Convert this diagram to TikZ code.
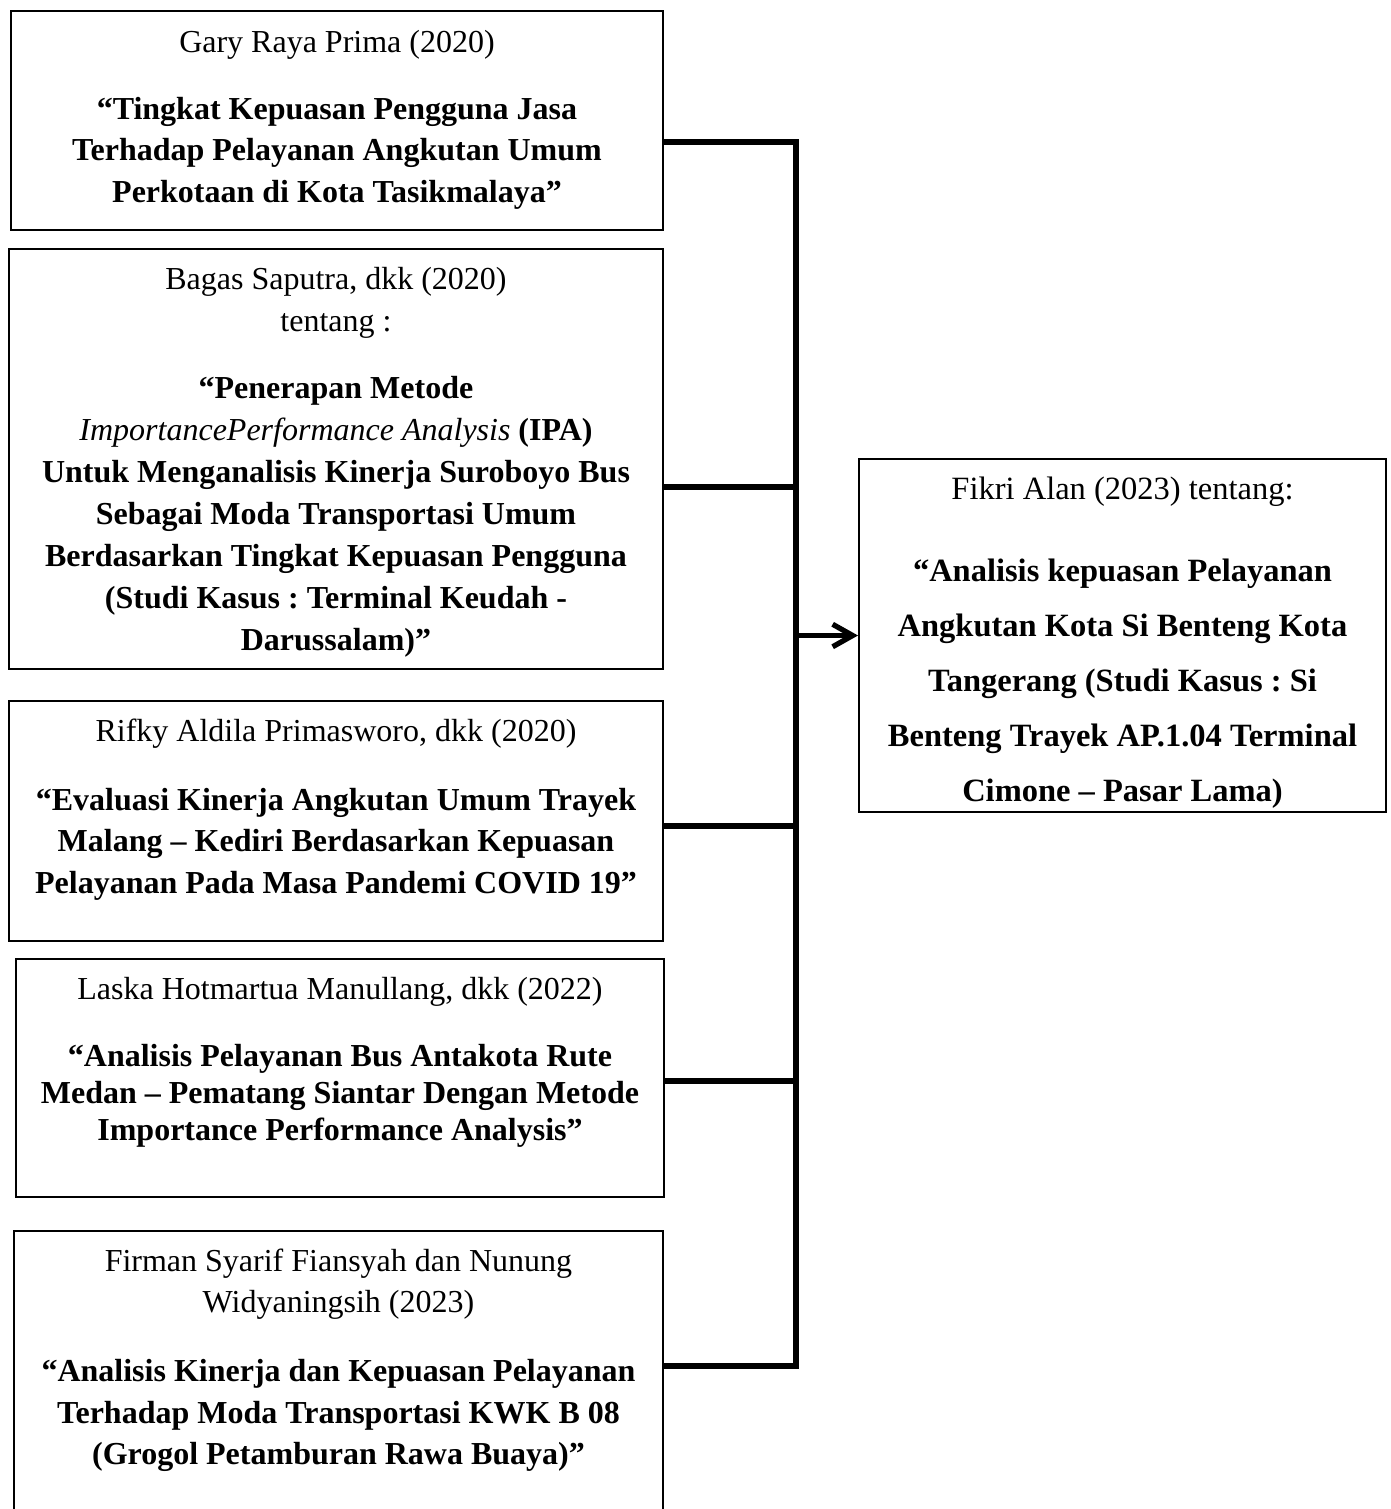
\documentclass[tikz,border=0pt]{standalone}
\usepackage{fontspec}
\setmainfont{Liberation Serif}
\usepackage{tikz}
\usetikzlibrary{arrows.meta,positioning}
\newcommand{\regfont}{\fontsize{12.8}{16.6}\selectfont}
\frenchspacing

\begin{document}
\begin{tikzpicture}[x=0.4pt, y=-0.4pt, box/.style={draw,line width=0.8pt,inner sep=0pt,anchor=north west}, txt/.style={align=flush center,anchor=base,inner sep=0pt,text width=#1}, txt/.default=290pt, bus/.style={line width=2.1pt}]
\useasboundingbox (0,0) rectangle (1391,1509);
\clip (0,0) rectangle (1391,1509);
\node[box,minimum width=260.8pt,minimum height=87.6pt] (b1) at (10,10) {};
\node[box,minimum width=261.6pt,minimum height=168pt] (b2) at (8,248) {};
\node[box,minimum width=261.6pt,minimum height=96pt] (b3) at (8,700) {};
\node[box,minimum width=259.2pt,minimum height=95.2pt] (b4) at (15,958) {};
\node[box,minimum width=259.6pt,minimum height=130pt] (b5) at (13,1230) {};
\node[box,minimum width=210.8pt,minimum height=141.2pt] (fk) at (858,458) {};
\node[txt,font=\regfont] (t1) at ([shift={(0,42)}]b1.north) {Gary Raya Prima (2020)\\[10.2pt]\bfseries ``Tingkat Kepuasan Pengguna Jasa\\Terhadap Pelayanan Angkutan Umum\\Perkotaan di Kota Tasikmalaya''};
\node[txt,font=\fontsize{12.8}{16.8}\selectfont] (t2) at ([shift={(0,41)}]b2.north) {Bagas Saputra, dkk (2020)\\tentang :\\[10pt]\bfseries ``Penerapan Metode\\{\mdseries\itshape ImportancePerformance Analysis} (IPA)\\Untuk Menganalisis Kinerja Suroboyo Bus\\Sebagai Moda Transportasi Umum\\Berdasarkan Tingkat Kepuasan Pengguna\\(Studi Kasus : Terminal Keudah -\\Darussalam)''};
\node[txt,font=\regfont] (t3) at ([shift={(0,41)}]b3.north) {Rifky Aldila Primasworo, dkk (2020)\\[11pt]\bfseries ``Evaluasi Kinerja Angkutan Umum Trayek\\Malang -- Kediri Berdasarkan Kepuasan\\Pelayanan Pada Masa Pandemi COVID 19''};
\node[txt,font=\fontsize{12.8}{14.8}\selectfont] (t4) at ([shift={(0,41)}]b4.north) {Laska Hotmartua Manullang, dkk (2022)\\[12pt]\bfseries ``Analisis Pelayanan Bus Antakota Rute\\Medan -- Pematang Siantar Dengan Metode\\Importance Performance Analysis''};
\node[txt,font=\regfont] (t5) at ([shift={(0,41)}]b5.north) {Firman Syarif Fiansyah dan Nunung\\Widyaningsih (2023)\\[11pt]\bfseries ``Analisis Kinerja dan Kepuasan Pelayanan\\Terhadap Moda Transportasi KWK B 08\\(Grogol Petamburan Rawa Buaya)''};
\node[txt=240pt,font=\fontsize{13}{22}\selectfont] (t6) at ([shift={(0,41)}]fk.north) {Fikri Alan (2023) tentang:\\[10.8pt]\bfseries ``Analisis kepuasan Pelayanan\\Angkutan Kota Si Benteng Kota\\Tangerang (Studi Kasus : Si\\Benteng Trayek AP.1.04 Terminal\\Cimone -- Pasar Lama)};
% garis penghubung
\coordinate (bt) at (796,142);
\coordinate (bb) at (796,1366);
\draw[bus] ([shift={(0,132)}]b1.north east) -- (bt) -- (bb) -- ([shift={(0,136)}]b5.north east);
\foreach \b/\dy in {b2/239,b3/126,b4/123}
  \draw[bus] ([shift={(0,\dy)}]\b.north east) coordinate (s) -- (s -| bt);
\draw[bus,-{Straight Barb[length=8pt,width=9pt]}] (bt |- fk.west) -- (fk.west);
\end{tikzpicture}
\end{document}
